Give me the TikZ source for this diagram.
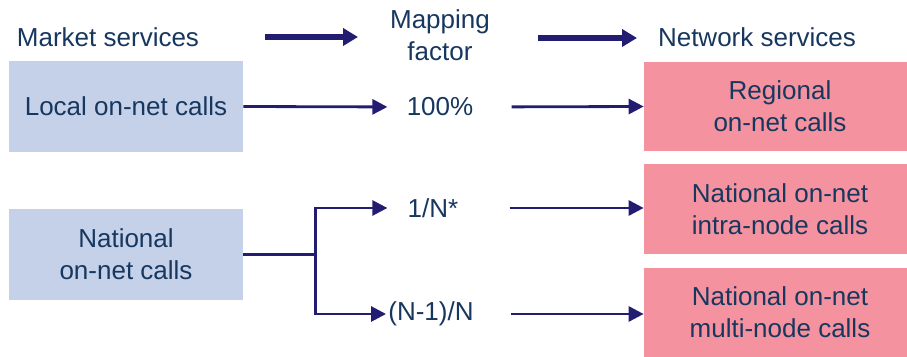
\documentclass[tikz,border=0pt]{standalone}
\usepackage{fontspec}
\setmainfont{Liberation Sans}
\usepackage{xcolor}
\usepackage{tikz}
\usetikzlibrary{arrows.meta,calc}
\definecolor{txtblue}{HTML}{17375E}
\definecolor{navy}{HTML}{221D70}
\definecolor{mktblue}{HTML}{C5D0E9}
\definecolor{netpink}{HTML}{F4929F}

\begin{document}
\begin{tikzpicture}[x=0.02cm, y=-0.02cm,
  every node/.style={font=\fontsize{14.8}{18.2}\selectfont, text=txtblue, align=center},
  mktbox/.style={fill=mktblue, minimum width=4.68cm, minimum height=1.82cm},
  netbox/.style={fill=netpink, minimum width=5.26cm, minimum height=1.8cm},
  factor/.style={inner sep=0pt},
  bigarrow/.style={navy, line width=3.1pt, -{Triangle[length=0.3cm, width=0.34cm]}},
  arrow/.style={navy, line width=1.6pt, -{Triangle[length=0.3cm, width=0.3cm]}}]
\useasboundingbox (0,0) rectangle (907,357);

% Headings
\node (mkthead) at (108,37) {Market services};
\node (maphead) at (440,35) {Mapping\\factor};
\node (nethead) at (757,37) {Network services};
\coordinate (arrowa) at (265,37);
\coordinate (arrowb) at (358,37);
\coordinate (arrowc) at (538,38);
\coordinate (arrowd) at (637,38);
\draw[bigarrow] (arrowa) -- (arrowb);
\draw[bigarrow] (arrowc) -- (arrowd);

% Market services
\node[mktbox] (local) at (126,106.5) {Local on-net calls};
\node[mktbox] (national) at (126,254.5) {National\\on-net calls};

% Mapping factors
\node[factor] (full) at (440,107) {100\%};
\node[factor] (onen) at (433,208) {1/N*};
\node[factor] (restn) at (431,314) {(N-1)/N};

% Network services
\node[netbox] (regional) at (775.5,106.5) {\hspace{0.18cm}Regional\\\hspace{0.18cm}on-net calls};
\node[netbox] (intra) at (775.5,209) {\hspace{0.18cm}National on-net\\\hspace{0.18cm}intra-node calls};
\node[netbox] (multi) at (775.5,312.5) {\hspace{0.18cm}National on-net\\\hspace{0.18cm}multi-node calls};

% Local calls
\draw[arrow, shorten >=0.38cm] (local.east) -- (full.west);
\draw[arrow, shorten <=0.76cm] (full.east) -- (regional.west);

% National calls split
\coordinate (split) at ($(national.east)+(72,0)$);
\draw[navy, line width=1.6pt] (national.east) -- (split);
\draw[arrow, shorten >=0.4cm] (split) |- (onen.west);
\draw[arrow, shorten >=0.04cm] (split) |- (restn.west);
\draw[arrow, shorten <=1.02cm] (onen.east) -- (onen.east -| intra.west);
\draw[arrow, shorten <=0.74cm] (restn.east) -- (restn.east -| multi.west);
\end{tikzpicture}
\end{document}
